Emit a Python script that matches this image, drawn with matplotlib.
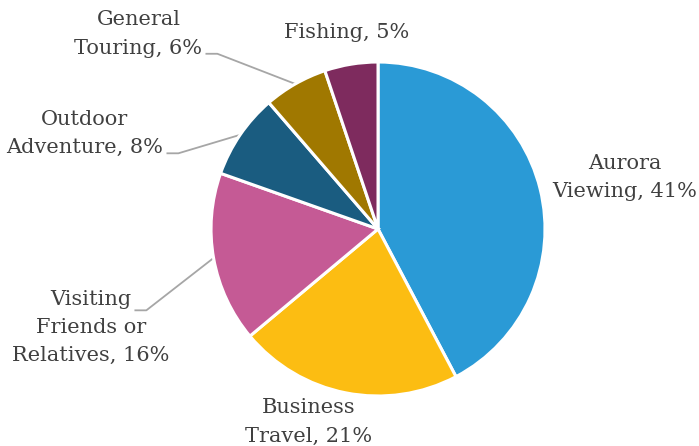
import numpy as np
import matplotlib
matplotlib.use("Agg")
import matplotlib.pyplot as plt

# Share of visitors by main trip purpose
purposes = ["Aurora\nViewing", "Business\nTravel", "Visiting\nFriends or\nRelatives",
            "Outdoor\nAdventure", "General\nTouring", "Fishing"]
shares = [41, 21, 16, 8, 6, 5]
colors = ["#2A9AD6", "#FCBD12", "#C55A95", "#1A5C80", "#A07800", "#7E2B5E"]

# Label centres (data units, pie radius = 1)
label_pos = [(1.48, 0.31), (-0.415, -1.155), (-1.72, -0.59),
             (-1.755, 0.572), (-1.435, 1.168), (-0.19, 1.174)]

FONT = dict(fontsize=15, family="DejaVu Serif")

fig = plt.figure(figsize=(6.99, 4.46), dpi=100)
ax = fig.add_axes([0.3019, 0.1121, 0.4778, 0.7489])

wedges, _ = ax.pie(shares, colors=colors, startangle=90, counterclock=False,
                   radius=1.0, wedgeprops=dict(edgecolor="white", linewidth=2.2))
ax.set_xlim(-1, 1)
ax.set_ylim(-1, 1)
ax.set_aspect("equal")
ax.axis("off")

texts = []
for name, val, (x, y) in zip(purposes, shares, label_pos):
    t = ax.text(x, y, f"{name}, {val}%", ha="center", va="center",
                color="#404040", linespacing=1.62, clip_on=False, **FONT)
    texts.append(t)

# Leader lines for the labels sitting away from their slices
fig.canvas.draw()
renderer = fig.canvas.get_renderer()
inv = ax.transData.inverted()
leaders = {2: 190.0, 3: None, 4: None}
for i, ang in leaders.items():
    w = wedges[i]
    if ang is None:
        ang = (w.theta1 + w.theta2) / 2
    tip = np.array([np.cos(np.radians(ang)), np.sin(np.radians(ang))])
    bb = texts[i].get_window_extent(renderer)
    lines = texts[i].get_text().split("\n")
    nline = len(lines)
    line_h = bb.height / nline
    row = 0 if i == 2 else nline - 1
    # width of the row the line hangs off
    tmp = ax.text(0, 0, lines[row], **FONT)
    rw = tmp.get_window_extent(renderer).width
    tmp.remove()
    cx = (bb.x0 + bb.x1) / 2
    sx = cx + rw / 2 + 4
    sy = bb.y1 - line_h * (row + 0.5) - 8
    p0 = inv.transform((sx, sy))
    p1 = inv.transform((sx + 11, sy))
    ax.plot([p0[0], p1[0], tip[0]], [p0[1], p1[1], tip[1]], color="#A6A6A6",
            linewidth=1.3, clip_on=False, zorder=0)

fig.savefig("out.png", dpi=100, facecolor="white")
